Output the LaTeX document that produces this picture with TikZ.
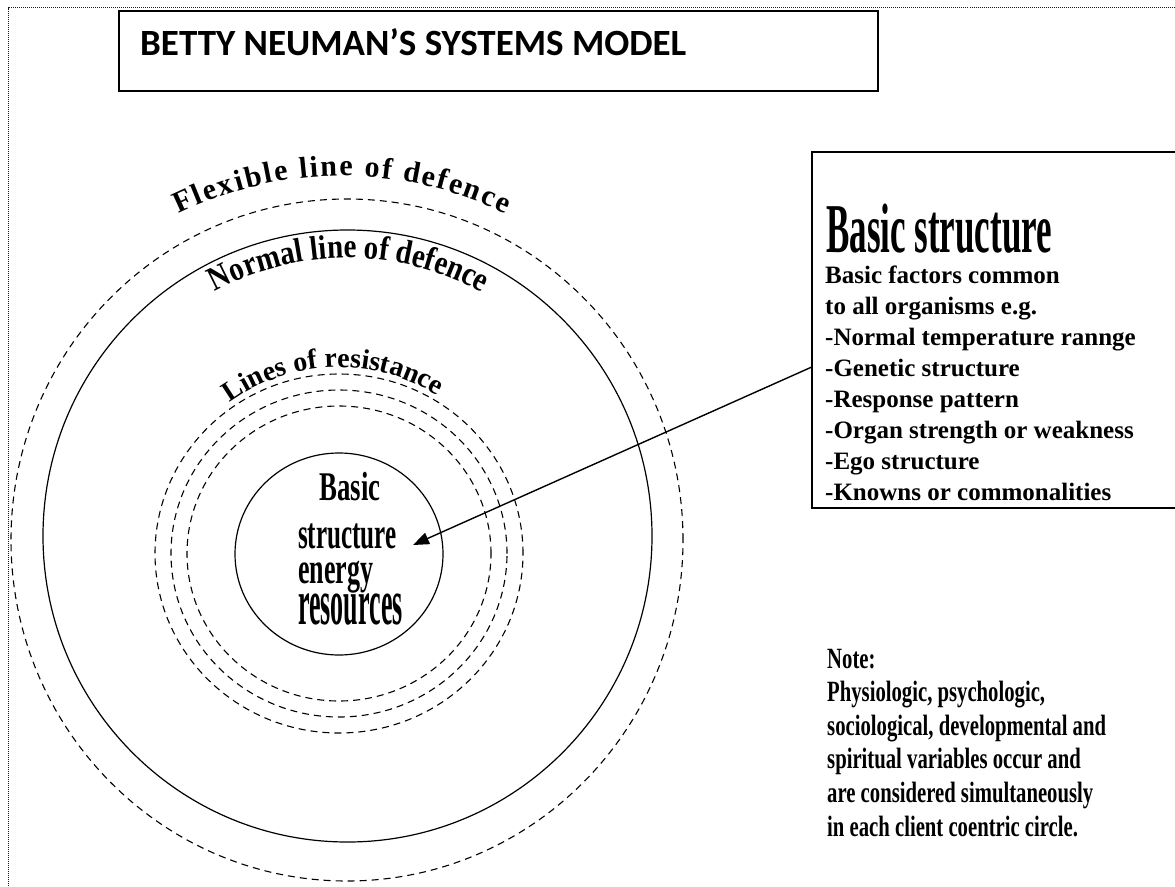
\documentclass[tikz,border=0pt]{standalone}
\usepackage{graphicx}
\usepackage{fontspec}
\setmainfont{Liberation Serif}
\newfontfamily\headfont{Carlito}
\newfontfamily\arcfont{Liberation Serif}[FakeStretch=0.85]
\usetikzlibrary{arrows.meta,decorations.text,shapes.geometric,calc}

\begin{document}
\begin{tikzpicture}[x=1pt, y=1pt,
  solidring/.style={line width=1.2pt},
  dashring/.style={line width=1.1pt, dash pattern=on 7pt off 5pt},
  frame/.style={draw, line width=1.6pt, inner sep=0pt},
  lbl/.style={inner sep=0pt, anchor=base west},
  pointer/.style={line width=1.4pt, -{Triangle[length=16pt, width=12pt]}},
]
\useasboundingbox (0,0) rectangle (1175,-886);

% page frame (dotted)
\draw[line width=0.9pt, dash pattern=on 0.9pt off 1.1pt, black!90]
  (8,-886) -- (8,-7.5) -- (1175,-7.5);

% title
\node[frame, anchor=north west, minimum width=759pt, minimum height=80pt] (titlebox) at (118,-10) {};
\node[lbl] (title) at (140,-55) {\headfont\bfseries\fontsize{37}{37}\selectfont BETTY NEUMAN’S SYSTEMS MODEL};

% concentric rings
\coordinate (flexC) at (347,-540);
\coordinate (flexT) at (342,-549);
\coordinate (normC) at (347.5,-536);
\coordinate (resC)  at (339,-553.5);
\draw[dashring]  (flexC) ellipse[x radius=336pt, y radius=341pt];
\draw[solidring] (normC) ellipse[x radius=304.5pt, y radius=306pt];
\draw[dashring]  (resC) ellipse[x radius=184pt, y radius=179.5pt];
\draw[dashring]  (resC) ellipse[x radius=168pt, y radius=163.5pt];
\draw[dashring]  (resC) ellipse[x radius=152pt, y radius=147.5pt];
\node[draw, solidring, ellipse, minimum width=208pt, minimum height=202pt, inner sep=0pt] (core) at (339,-554) {};

% ring labels along arcs
\path[decorate, decoration={text along path, text align={fit to path},
  text={|\bfseries\fontsize{30}{30}\selectfont|Flexible line of defence}}]
  ([shift={(116:373pt)}]flexT) arc[start angle=116, end angle=64, radius=373pt];
\path[decorate, decoration={text along path, text align=center,
  text={|\arcfont\bfseries\fontsize{34}{34}\selectfont|Normal line of defence}}]
  ([shift={(119.5:278pt)}]normC) arc[start angle=119.5, end angle=60, radius=278pt];
\path[decorate, decoration={text along path, text align=center,
  text={|\bfseries\fontsize{28}{28}\selectfont|Lines of resistance}}]
  ([shift={(127:186pt)}]resC) arc[start angle=127, end angle=57, radius=186pt];

% core text
\node[inner sep=0pt, anchor=base] (coreA) at (350,-500)
  {\scalebox{1}[1.52]{\fontsize{26.8}{26.8}\selectfont\bfseries Basic}};
\node[lbl] (coreB) at (298,-548)
  {\scalebox{1}[1.75]{\fontsize{25.1}{25.1}\selectfont\bfseries structure}};
\node[lbl] (coreC) at (298,-583)
  {\scalebox{1}[1.69]{\fontsize{26}{26}\selectfont\bfseries energy}};
\node[lbl] (coreD) at (298,-624)
  {\scalebox{1}[2.5]{\fontsize{26}{26}\selectfont\bfseries resources}};

% information box
\node[frame, anchor=north west, minimum width=369pt, minimum height=356pt] (infobox) at (811,-151) {};
\node[lbl] (infohead) at (826,-252)
  {\scalebox{1}[2.0]{\fontsize{35}{35}\selectfont\bfseries Basic structure}};
\foreach \txt [count=\i from 0] in {{Basic factors common},{to all organisms e.g.},
    {-Normal temperature rannge},{-Genetic structure},{-Response pattern},
    {-Organ strength or weakness},{-Ego structure},{-Knowns or commonalities}}
  \node[lbl] (fact\i) at (825,{-283-31*\i}) {\fontsize{25}{25}\selectfont\bfseries \txt};

% pointer from the box to the core
\coordinate (tail) at ($(infobox.north west)!0.605!(infobox.south west)$);
\coordinate (tip) at (413,-545);
\draw[pointer] (tail) -- (tip);

% note
\foreach \txt [count=\i from 0] in {{Note:},{Physiologic, psychologic,},
    {sociological, developmental and},{spiritual variables occur and},
    {are considered simultaneously},{in each client coentric circle.}}
  \node[lbl] (note\i) at (827,{-668-33.6*\i})
    {\scalebox{1}[1.42]{\fontsize{20.7}{20.7}\selectfont\bfseries \txt}};
\end{tikzpicture}
\end{document}
